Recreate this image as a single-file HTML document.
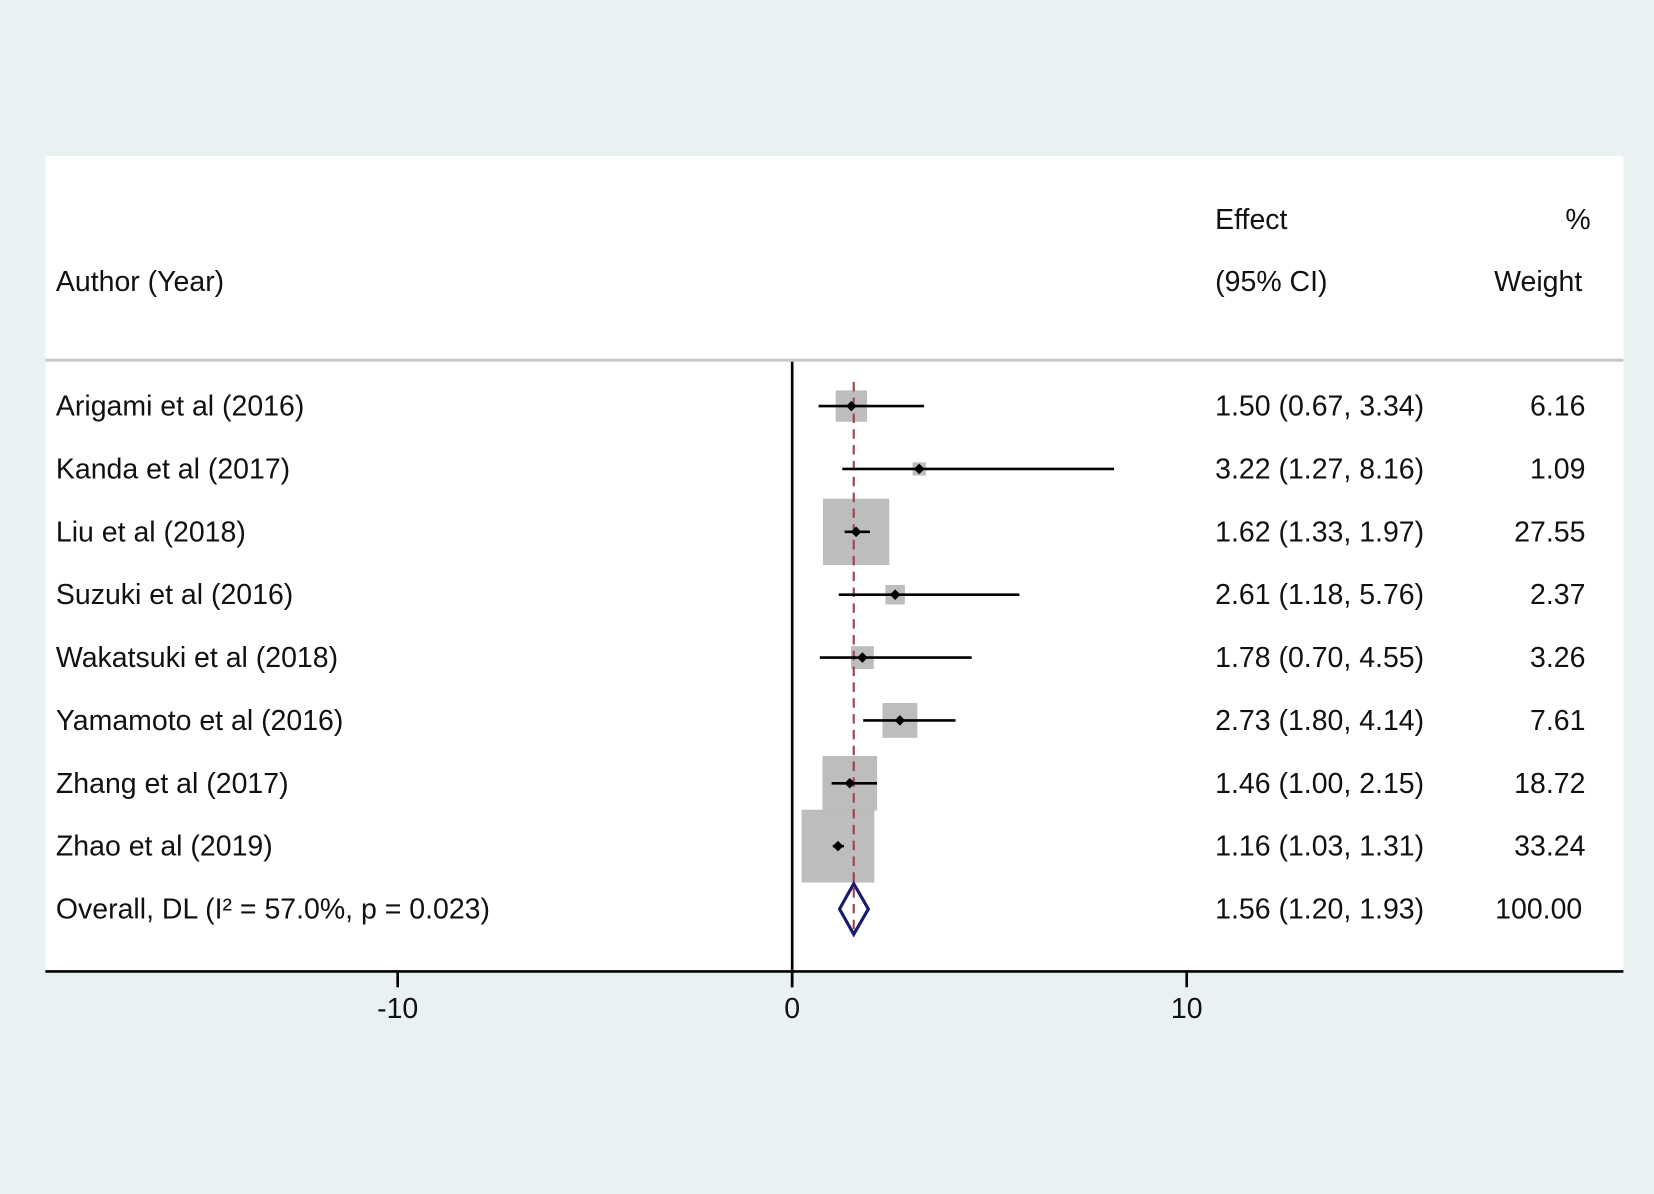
<!DOCTYPE html>
<html><head><meta charset="utf-8"><style>
html,body{margin:0;padding:0;background:#e9f1f3;}
svg{display:block;font-family:"Liberation Sans",Arial,sans-serif;}
</style></head><body>
<svg id="chart" width="1654" height="1194" viewBox="0 0 1568 1132" preserveAspectRatio="none" xmlns="http://www.w3.org/2000/svg">
<rect x="0" y="0" width="1568" height="1132" fill="#e9f1f3"/>
<rect x="43" y="148" width="1496" height="773" fill="#ffffff"/>
<line x1="43" y1="341.5" x2="1539" y2="341.5" stroke="#c8c8c8" stroke-width="3"/>
<g font-size="27" fill="#111">
<text x="53" y="276">Author (Year)</text>
<text x="1152" y="217">Effect</text>
<text x="1152" y="276">(95% CI)</text>
<text x="1508" y="217" text-anchor="end">%</text>
<text x="1500" y="276" text-anchor="end">Weight</text>
</g>
<g id="marks"></g>
</svg>
<script>
const studies = ["Arigami et al (2016)","Kanda et al (2017)","Liu et al (2018)","Suzuki et al (2016)","Wakatsuki et al (2018)","Yamamoto et al (2016)","Zhang et al (2017)","Zhao et al (2019)"];
const effects = [1.50,3.22,1.62,2.61,1.78,2.73,1.46,1.16];
const lower = [0.67,1.27,1.33,1.18,0.70,1.80,1.00,1.03];
const upper = [3.34,8.16,1.97,5.76,4.55,4.14,2.15,1.31];
const weights = [6.16,1.09,27.55,2.37,3.26,7.61,18.72,33.24];
const overall = [1.56,1.20,1.93];
const overallLabel = "Overall, DL (I\u00B2 = 57.0%, p = 0.023)";
const xTicks = [-10,0,10];

const NS="http://www.w3.org/2000/svg";
const g=document.getElementById('marks');
const xs=v=>751+v*37.4;
const rowY=i=>385+i*59.6;
function el(t,a){const e=document.createElementNS(NS,t);for(const k in a)e.setAttribute(k,a[k]);g.appendChild(e);return e;}
const fmt=v=>v.toFixed(2);

studies.forEach((s,i)=>{
  const y=rowY(i);
  const side=69*Math.sqrt(weights[i]/33.24);
  const b=el('rect',{x:xs(effects[i])-side/2,y:y-side/2,width:side,height:side,fill:'#bdbdbd'});
  
  
});
const ax=el('line',{x1:xs(0),y1:343,x2:xs(0),y2:936,stroke:'#000','stroke-width':2.5});


const oy=rowY(8);
const dl=el('line',{x1:xs(overall[0]),y1:362,x2:xs(overall[0]),y2:oy+26,stroke:'#a0404a','stroke-width':2,'stroke-dasharray':'9,6'});



studies.forEach((s,i)=>{
  const y=rowY(i);
  const ci=el('line',{x1:xs(lower[i]),y1:y,x2:xs(upper[i]),y2:y,stroke:'#000','stroke-width':2.5});
  
  
  const cx=xs(effects[i]);
  const p=el('polygon',{points:`${cx-5},${y} ${cx},${y-5} ${cx+5},${y} ${cx},${y+5}`,fill:'#000'});
  
  
  const t=el('text',{x:53,y:y+9,'font-size':27,fill:'#111'});t.textContent=s;
  
  
  const e=el('text',{x:1152,y:y+9,'font-size':27,fill:'#111'});e.textContent=`${fmt(effects[i])} (${fmt(lower[i])}, ${fmt(upper[i])})`;
  
  
  const w=el('text',{x:1503,y:y+9,'font-size':27,fill:'#111','text-anchor':'end'});w.textContent=fmt(weights[i]);
  
  
});
const dm=el('polygon',{points:`${xs(overall[1])},${oy} ${xs(overall[0])},${oy-24} ${xs(overall[2])},${oy} ${xs(overall[0])},${oy+24}`,fill:'none',stroke:'#1a1a6e','stroke-width':3});


const ol=el('text',{x:53,y:oy+9,'font-size':27,fill:'#111'});
ol.textContent=overallLabel;


const oe=el('text',{x:1152,y:oy+9,'font-size':27,fill:'#111'});
oe.textContent=`${fmt(overall[0])} (${fmt(overall[1])}, ${fmt(overall[2])})`;


const ow=el('text',{x:1500,y:oy+9,'font-size':27,fill:'#111','text-anchor':'end'});
ow.textContent="100.00";



const xl=el('line',{x1:43,y1:921,x2:1539,y2:921,stroke:'#000','stroke-width':2.5});


xTicks.forEach(v=>{
  const tk=el('line',{x1:xs(v),y1:921,x2:xs(v),y2:936,stroke:'#000','stroke-width':2.5});
  
  
  const tl=el('text',{x:xs(v),y:965,'font-size':27,fill:'#111','text-anchor':'middle'});
  tl.textContent=String(v);
  
  
});
</script>
</body></html>
